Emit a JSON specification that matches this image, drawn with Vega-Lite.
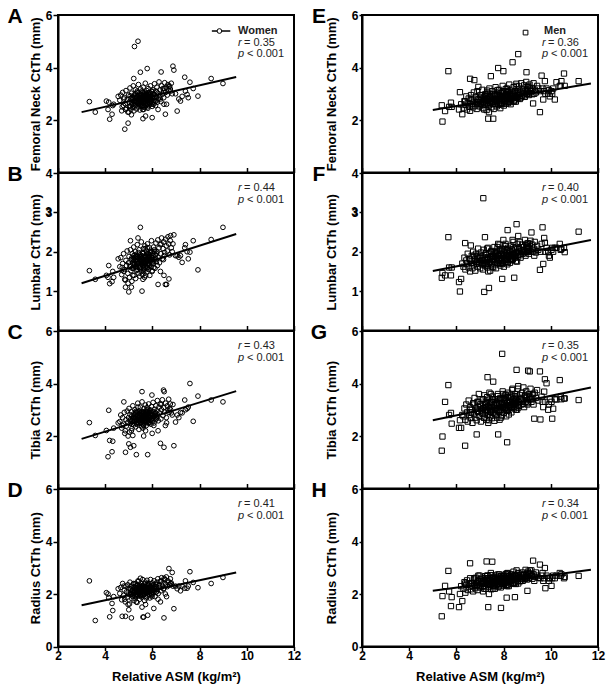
{
"$schema": "https://vega.github.io/schema/vega-lite/v6.json",
"background": "white",
"padding": {"left": 6, "top": 5, "right": 5, "bottom": 5},
"columns": 2,
"spacing": {"row": 0, "column": 68},
"bounds": "flush",
"config": {
 "font": "Liberation Sans",
 "view": {"stroke": "black", "strokeWidth": 2},
 "axis": {"grid": false, "domainColor": "black", "domainWidth": 2, "tickColor": "black", "tickWidth": 1.5, "labelFont": "Liberation Sans", "labelFontSize": 12, "labelFontWeight": "bold", "labelColor": "black", "titleFont": "Liberation Sans", "titleFontSize": 13, "titleFontWeight": "bold", "titleColor": "black", "labelFlush": false, "labelOverlap": false},
 "text": {"font": "Liberation Sans"}
},
"datasets": {
 "fits": [
  {"p": "A", "x0": 3.0, "y0": 2.30, "x1": 9.55, "y1": 3.64},
  {"p": "B", "x0": 3.0, "y0": 1.20, "x1": 9.55, "y1": 2.45},
  {"p": "C", "x0": 3.0, "y0": 1.89, "x1": 9.55, "y1": 3.71},
  {"p": "D", "x0": 3.0, "y0": 1.57, "x1": 9.55, "y1": 2.82},
  {"p": "E", "x0": 5.0, "y0": 2.38, "x1": 11.7, "y1": 3.39},
  {"p": "F", "x0": 5.0, "y0": 1.51, "x1": 11.7, "y1": 2.30},
  {"p": "G", "x0": 5.0, "y0": 2.60, "x1": 11.7, "y1": 3.85},
  {"p": "H", "x0": 5.0, "y0": 2.12, "x1": 11.7, "y1": 2.92}
 ],
 "notes": [
  {"p": "A", "r": "= 0.35"}, {"p": "B", "r": "= 0.44"}, {"p": "C", "r": "= 0.43"}, {"p": "D", "r": "= 0.41"},
  {"p": "E", "r": "= 0.36"}, {"p": "F", "r": "= 0.40"}, {"p": "G", "r": "= 0.35"}, {"p": "H", "r": "= 0.34"}
 ],
 "women": [
  {"x":3.33,"a":2.70,"b":1.52,"c":2.51,"d":2.50},
  {"x":3.58,"a":2.30,"b":1.30,"c":2.02,"d":0.99},
  {"x":4.05,"a":2.72,"b":1.40,"c":2.21,"d":2.05},
  {"x":4.15,"a":2.68,"b":1.65,"c":2.98,"d":1.86},
  {"x":4.19,"a":2.03,"b":1.19,"c":1.83,"d":1.13},
  {"x":4.29,"a":2.22,"b":1.24,"c":1.40,"d":1.64},
  {"x":4.12,"a":2.40,"b":1.35,"c":1.21,"d":2.00},
  {"x":4.32,"a":2.55,"b":1.50,"c":1.80,"d":1.37},
  {"x":4.36,"a":2.60,"b":1.35,"c":2.30,"d":1.90},
  {"x":4.55,"a":2.90,"b":1.82,"c":2.50,"d":2.20},
  {"x":4.72,"a":2.50,"b":1.60,"c":2.40,"d":1.15},
  {"x":4.79,"a":2.80,"b":1.50,"c":3.30,"d":2.30},
  {"x":4.83,"a":1.65,"b":1.30,"c":2.10,"d":1.80},
  {"x":4.86,"a":2.40,"b":1.10,"c":1.38,"d":1.15},
  {"x":4.97,"a":1.88,"b":1.20,"c":2.00,"d":1.60},
  {"x":5.00,"a":2.30,"b":0.98,"c":1.70,"d":1.40},
  {"x":5.07,"a":2.50,"b":2.28,"c":1.57,"d":2.00},
  {"x":5.11,"a":2.20,"b":1.10,"c":2.20,"d":1.09},
  {"x":5.17,"a":2.60,"b":1.40,"c":2.02,"d":1.90},
  {"x":5.21,"a":3.58,"b":1.90,"c":1.63,"d":2.40},
  {"x":5.24,"a":4.80,"b":1.70,"c":2.70,"d":2.20},
  {"x":5.32,"a":2.70,"b":1.60,"c":1.29,"d":1.70},
  {"x":5.39,"a":5.00,"b":2.35,"c":3.10,"d":2.50},
  {"x":5.49,"a":3.82,"b":2.62,"c":2.90,"d":2.60},
  {"x":5.56,"a":2.50,"b":1.00,"c":3.69,"d":1.50},
  {"x":5.60,"a":2.05,"b":1.30,"c":2.30,"d":1.12},
  {"x":5.63,"a":2.40,"b":1.50,"c":2.00,"d":1.12},
  {"x":5.71,"a":2.15,"b":1.40,"c":2.20,"d":1.60},
  {"x":5.78,"a":3.96,"b":2.10,"c":3.00,"d":2.40},
  {"x":5.80,"a":2.50,"b":1.60,"c":1.29,"d":1.19},
  {"x":5.98,"a":3.10,"b":2.00,"c":3.56,"d":2.30},
  {"x":5.99,"a":2.09,"b":1.50,"c":2.10,"d":1.90},
  {"x":6.06,"a":2.60,"b":1.60,"c":2.40,"d":1.45},
  {"x":6.24,"a":2.40,"b":1.17,"c":2.20,"d":1.80},
  {"x":6.34,"a":2.80,"b":1.50,"c":1.72,"d":1.70},
  {"x":6.37,"a":3.83,"b":2.20,"c":3.20,"d":2.50},
  {"x":6.47,"a":3.10,"b":1.80,"c":3.75,"d":2.20},
  {"x":6.49,"a":2.60,"b":1.40,"c":1.57,"d":1.09},
  {"x":6.55,"a":2.22,"b":1.17,"c":2.40,"d":2.00},
  {"x":6.60,"a":2.60,"b":1.17,"c":2.50,"d":1.90},
  {"x":6.50,"a":3.20,"b":1.90,"c":3.69,"d":2.60},
  {"x":6.70,"a":3.30,"b":1.31,"c":2.90,"d":2.97},
  {"x":6.77,"a":3.10,"b":2.41,"c":3.00,"d":2.40},
  {"x":6.84,"a":3.00,"b":2.00,"c":2.80,"d":2.82},
  {"x":6.87,"a":4.05,"b":2.20,"c":3.20,"d":2.30},
  {"x":6.91,"a":3.90,"b":2.43,"c":1.63,"d":1.44},
  {"x":6.98,"a":3.00,"b":1.90,"c":2.53,"d":2.30},
  {"x":7.05,"a":2.34,"b":1.90,"c":2.80,"d":2.20},
  {"x":7.12,"a":2.80,"b":1.86,"c":2.70,"d":2.30},
  {"x":7.19,"a":2.72,"b":1.90,"c":2.90,"d":2.12},
  {"x":7.26,"a":2.90,"b":1.73,"c":2.88,"d":2.30},
  {"x":7.37,"a":3.63,"b":2.10,"c":3.37,"d":2.22},
  {"x":7.40,"a":3.10,"b":2.18,"c":3.00,"d":2.50},
  {"x":7.47,"a":2.97,"b":2.00,"c":3.04,"d":2.22},
  {"x":7.52,"a":2.85,"b":1.82,"c":3.10,"d":2.30},
  {"x":7.59,"a":3.44,"b":1.99,"c":4.00,"d":2.85},
  {"x":7.73,"a":3.20,"b":2.28,"c":2.56,"d":2.44},
  {"x":7.93,"a":2.91,"b":1.54,"c":3.52,"d":2.24},
  {"x":8.49,"a":3.58,"b":2.31,"c":3.37,"d":2.40},
  {"x":8.99,"a":3.39,"b":2.62,"c":3.30,"d":2.63},
  {"x":4.62,"a":2.75,"b":1.62,"c":2.55,"d":2.02},
  {"x":4.66,"a":2.95,"b":1.85,"c":2.80,"d":2.25},
  {"x":4.70,"a":2.35,"b":1.42,"c":2.30,"d":1.78},
  {"x":4.74,"a":3.05,"b":1.70,"c":2.70,"d":2.40},
  {"x":4.78,"a":2.55,"b":1.95,"c":2.45,"d":1.95},
  {"x":4.81,"a":2.85,"b":1.55,"c":2.90,"d":2.15},
  {"x":4.85,"a":2.62,"b":1.28,"c":2.20,"d":1.70},
  {"x":4.88,"a":3.12,"b":1.78,"c":2.62,"d":2.30},
  {"x":4.90,"a":2.45,"b":1.65,"c":2.38,"d":2.08},
  {"x":4.93,"a":2.78,"b":2.02,"c":2.95,"d":1.88},
  {"x":4.96,"a":2.30,"b":1.45,"c":2.52,"d":2.35},
  {"x":4.99,"a":2.95,"b":1.72,"c":2.70,"d":2.00},
  {"x":5.01,"a":2.68,"b":1.88,"c":3.05,"d":2.22},
  {"x":5.03,"a":2.52,"b":1.35,"c":2.15,"d":1.62},
  {"x":5.05,"a":3.22,"b":1.62,"c":2.82,"d":2.45},
  {"x":5.07,"a":2.82,"b":2.05,"c":2.48,"d":1.98},
  {"x":5.09,"a":2.40,"b":1.52,"c":2.65,"d":2.18},
  {"x":5.11,"a":3.02,"b":1.80,"c":2.92,"d":2.30},
  {"x":5.13,"a":2.60,"b":1.25,"c":2.28,"d":1.82},
  {"x":5.15,"a":2.88,"b":1.95,"c":2.58,"d":2.12},
  {"x":5.17,"a":2.48,"b":1.70,"c":3.15,"d":1.95},
  {"x":5.19,"a":3.30,"b":1.58,"c":2.72,"d":2.38},
  {"x":5.21,"a":2.72,"b":2.12,"c":2.42,"d":2.05},
  {"x":5.22,"a":2.35,"b":1.40,"c":2.85,"d":1.75},
  {"x":5.24,"a":2.95,"b":1.85,"c":2.55,"d":2.28},
  {"x":5.26,"a":2.65,"b":1.62,"c":3.00,"d":2.15},
  {"x":5.28,"a":3.15,"b":2.00,"c":2.68,"d":1.90},
  {"x":5.29,"a":2.55,"b":1.32,"c":2.35,"d":2.40},
  {"x":5.31,"a":2.82,"b":1.75,"c":2.90,"d":2.00},
  {"x":5.33,"a":2.42,"b":1.90,"c":2.62,"d":2.22},
  {"x":5.35,"a":3.05,"b":1.55,"c":2.45,"d":1.68},
  {"x":5.36,"a":2.70,"b":2.18,"c":2.78,"d":2.35},
  {"x":5.38,"a":2.92,"b":1.68,"c":3.25,"d":2.10},
  {"x":5.40,"a":2.50,"b":1.45,"c":2.52,"d":1.92},
  {"x":5.41,"a":3.35,"b":1.85,"c":2.70,"d":2.48},
  {"x":5.43,"a":2.78,"b":1.72,"c":2.25,"d":2.05},
  {"x":5.44,"a":2.60,"b":2.05,"c":2.95,"d":2.20},
  {"x":5.46,"a":3.00,"b":1.38,"c":2.60,"d":1.80},
  {"x":5.47,"a":2.38,"b":1.60,"c":2.80,"d":2.30},
  {"x":5.49,"a":2.85,"b":1.92,"c":3.10,"d":2.12},
  {"x":5.50,"a":3.18,"b":1.78,"c":2.50,"d":1.98},
  {"x":5.52,"a":2.68,"b":1.50,"c":2.68,"d":2.42},
  {"x":5.53,"a":2.95,"b":2.25,"c":2.88,"d":2.18},
  {"x":5.55,"a":2.52,"b":1.68,"c":2.35,"d":1.88},
  {"x":5.56,"a":3.10,"b":1.85,"c":3.30,"d":2.30},
  {"x":5.58,"a":2.78,"b":1.42,"c":2.72,"d":2.08},
  {"x":5.59,"a":2.40,"b":1.95,"c":2.58,"d":2.55},
  {"x":5.61,"a":3.25,"b":1.65,"c":2.92,"d":1.95},
  {"x":5.62,"a":2.88,"b":2.08,"c":2.42,"d":2.25},
  {"x":5.64,"a":2.62,"b":1.55,"c":3.05,"d":2.02},
  {"x":5.65,"a":3.02,"b":1.80,"c":2.65,"d":2.38},
  {"x":5.67,"a":2.72,"b":1.35,"c":2.82,"d":1.75},
  {"x":5.68,"a":2.48,"b":2.15,"c":2.50,"d":2.15},
  {"x":5.70,"a":3.40,"b":1.72,"c":3.18,"d":2.45},
  {"x":5.71,"a":2.92,"b":1.90,"c":2.62,"d":2.05},
  {"x":5.73,"a":2.58,"b":1.60,"c":2.95,"d":2.28},
  {"x":5.74,"a":2.80,"b":2.02,"c":2.40,"d":1.85},
  {"x":5.76,"a":3.12,"b":1.48,"c":2.75,"d":2.20},
  {"x":5.77,"a":2.65,"b":1.82,"c":3.08,"d":2.52},
  {"x":5.79,"a":2.95,"b":2.20,"c":2.55,"d":2.10},
  {"x":5.81,"a":2.45,"b":1.68,"c":2.85,"d":1.92},
  {"x":5.82,"a":3.20,"b":1.95,"c":2.70,"d":2.32},
  {"x":5.84,"a":2.75,"b":1.55,"c":3.22,"d":2.08},
  {"x":5.85,"a":2.55,"b":1.88,"c":2.48,"d":2.40},
  {"x":5.87,"a":3.05,"b":2.10,"c":2.90,"d":2.18},
  {"x":5.89,"a":2.85,"b":1.40,"c":2.60,"d":1.85},
  {"x":5.90,"a":2.62,"b":1.75,"c":3.00,"d":2.30},
  {"x":5.92,"a":3.30,"b":2.00,"c":2.78,"d":2.55},
  {"x":5.94,"a":2.90,"b":1.62,"c":2.45,"d":2.02},
  {"x":5.96,"a":2.70,"b":2.28,"c":3.12,"d":2.25},
  {"x":5.97,"a":3.08,"b":1.85,"c":2.68,"d":1.95},
  {"x":5.99,"a":2.52,"b":1.52,"c":2.92,"d":2.42},
  {"x":6.01,"a":2.82,"b":1.95,"c":2.58,"d":2.15},
  {"x":6.03,"a":3.15,"b":1.70,"c":3.28,"d":2.35},
  {"x":6.05,"a":2.65,"b":2.12,"c":2.75,"d":2.05},
  {"x":6.07,"a":2.98,"b":1.80,"c":2.50,"d":2.50},
  {"x":6.09,"a":3.38,"b":2.05,"c":3.02,"d":2.20},
  {"x":6.11,"a":2.75,"b":1.58,"c":2.85,"d":1.90},
  {"x":6.13,"a":2.55,"b":1.92,"c":2.62,"d":2.38},
  {"x":6.15,"a":3.10,"b":2.22,"c":3.15,"d":2.28},
  {"x":6.17,"a":2.88,"b":1.75,"c":2.72,"d":2.08},
  {"x":6.19,"a":3.25,"b":2.00,"c":2.95,"d":2.45},
  {"x":6.21,"a":2.68,"b":1.65,"c":3.35,"d":2.18},
  {"x":6.23,"a":3.02,"b":2.30,"c":2.80,"d":2.58},
  {"x":6.25,"a":2.80,"b":1.85,"c":2.58,"d":2.02},
  {"x":6.28,"a":3.45,"b":2.10,"c":3.10,"d":2.35},
  {"x":6.30,"a":2.92,"b":1.72,"c":2.88,"d":2.25},
  {"x":6.33,"a":3.15,"b":2.18,"c":3.22,"d":2.48},
  {"x":6.36,"a":2.70,"b":1.95,"c":2.65,"d":2.12},
  {"x":6.39,"a":3.30,"b":2.35,"c":3.00,"d":2.62},
  {"x":6.42,"a":2.98,"b":1.82,"c":3.38,"d":2.30},
  {"x":6.45,"a":3.20,"b":2.08,"c":2.78,"d":2.42},
  {"x":6.48,"a":2.85,"b":2.25,"c":3.08,"d":2.20},
  {"x":6.52,"a":3.42,"b":1.98,"c":2.92,"d":2.55},
  {"x":6.56,"a":3.05,"b":2.32,"c":3.25,"d":2.38},
  {"x":6.59,"a":3.25,"b":2.15,"c":2.70,"d":2.65},
  {"x":6.63,"a":2.95,"b":2.02,"c":3.15,"d":2.28},
  {"x":6.66,"a":3.35,"b":2.38,"c":2.98,"d":2.50},
  {"x":6.69,"a":3.12,"b":2.20,"c":3.40,"d":2.45},
  {"x":6.73,"a":3.28,"b":1.92,"c":3.05,"d":2.35},
  {"x":6.76,"a":3.18,"b":2.28,"c":3.22,"d":2.58},
  {"x":6.80,"a":3.40,"b":2.10,"c":2.88,"d":2.42},
  {"x":5.25,"a":2.75,"b":1.78,"c":2.62,"d":2.10},
  {"x":5.34,"a":2.88,"b":1.82,"c":2.75,"d":2.18},
  {"x":5.42,"a":2.68,"b":1.70,"c":2.58,"d":2.02},
  {"x":5.48,"a":2.92,"b":1.88,"c":2.70,"d":2.22},
  {"x":5.54,"a":2.80,"b":1.75,"c":2.62,"d":2.12},
  {"x":5.60,"a":2.72,"b":1.80,"c":2.78,"d":2.05},
  {"x":5.66,"a":2.95,"b":1.70,"c":2.55,"d":2.18},
  {"x":5.72,"a":2.85,"b":1.85,"c":2.68,"d":2.10},
  {"x":5.78,"a":2.62,"b":1.78,"c":2.82,"d":2.25},
  {"x":5.83,"a":2.90,"b":1.72,"c":2.60,"d":2.08},
  {"x":5.88,"a":2.78,"b":1.92,"c":2.72,"d":2.15},
  {"x":5.93,"a":2.70,"b":1.82,"c":2.85,"d":2.20},
  {"x":5.50,"a":2.58,"b":1.62,"c":2.48,"d":1.95},
  {"x":5.57,"a":3.05,"b":1.98,"c":2.92,"d":2.32},
  {"x":5.63,"a":2.50,"b":1.58,"c":2.40,"d":1.98},
  {"x":5.69,"a":2.82,"b":2.08,"c":2.85,"d":2.28},
  {"x":5.75,"a":3.00,"b":1.62,"c":2.58,"d":2.02},
  {"x":5.80,"a":2.60,"b":1.95,"c":2.92,"d":2.35},
  {"x":5.86,"a":2.82,"b":1.68,"c":2.52,"d":1.98},
  {"x":5.91,"a":3.00,"b":1.98,"c":2.78,"d":2.28},
  {"x":5.45,"a":2.82,"b":1.58,"c":2.78,"d":2.25},
  {"x":5.37,"a":2.62,"b":1.88,"c":2.52,"d":1.98},
  {"x":5.30,"a":2.92,"b":1.62,"c":2.88,"d":2.30},
  {"x":5.20,"a":2.70,"b":1.80,"c":2.68,"d":2.05},
  {"x":5.14,"a":2.85,"b":1.58,"c":2.45,"d":2.15},
  {"x":5.23,"a":2.58,"b":1.66,"c":2.55,"d":2.06},
  {"x":5.27,"a":3.00,"b":1.92,"c":2.82,"d":2.24},
  {"x":5.32,"a":2.76,"b":1.52,"c":2.48,"d":1.96},
  {"x":5.36,"a":3.10,"b":1.74,"c":2.92,"d":2.32},
  {"x":5.40,"a":2.64,"b":1.98,"c":2.70,"d":2.14},
  {"x":5.44,"a":2.92,"b":1.64,"c":2.50,"d":2.02},
  {"x":5.47,"a":2.70,"b":1.84,"c":2.86,"d":2.28},
  {"x":5.51,"a":2.98,"b":1.56,"c":2.62,"d":1.92},
  {"x":5.55,"a":2.62,"b":1.90,"c":2.78,"d":2.20},
  {"x":5.58,"a":2.90,"b":1.72,"c":2.46,"d":2.10},
  {"x":5.62,"a":2.68,"b":1.96,"c":2.88,"d":2.30},
  {"x":5.65,"a":2.80,"b":1.62,"c":2.68,"d":2.00},
  {"x":5.69,"a":3.05,"b":1.88,"c":2.58,"d":2.16},
  {"x":5.72,"a":2.56,"b":1.76,"c":2.90,"d":2.26},
  {"x":5.76,"a":2.88,"b":1.94,"c":2.64,"d":2.04},
  {"x":5.79,"a":2.74,"b":1.60,"c":2.74,"d":2.18},
  {"x":5.83,"a":3.02,"b":1.86,"c":2.52,"d":2.34},
  {"x":5.86,"a":2.66,"b":1.78,"c":2.96,"d":2.08},
  {"x":5.90,"a":2.94,"b":1.66,"c":2.70,"d":2.22},
  {"x":5.94,"a":2.78,"b":2.04,"c":2.60,"d":2.12},
  {"x":5.98,"a":2.60,"b":1.70,"c":2.84,"d":2.00},
  {"x":6.02,"a":3.00,"b":1.90,"c":2.68,"d":2.30},
  {"x":6.06,"a":2.84,"b":1.76,"c":2.92,"d":2.14},
  {"x":6.10,"a":2.96,"b":2.00,"c":2.74,"d":2.26},
  {"x":6.14,"a":2.72,"b":1.82,"c":2.88,"d":2.06},
  {"x":6.18,"a":3.06,"b":1.96,"c":2.66,"d":2.36},
  {"x":5.18,"a":2.80,"b":1.74,"c":2.66,"d":2.12},
  {"x":5.12,"a":2.66,"b":1.84,"c":2.76,"d":2.00},
  {"x":5.06,"a":2.92,"b":1.66,"c":2.60,"d":2.20},
  {"x":5.30,"a":2.84,"b":1.86,"c":2.94,"d":1.94},
  {"x":5.46,"a":2.86,"b":1.76,"c":2.72,"d":2.16},
  {"x":5.53,"a":2.74,"b":1.82,"c":2.80,"d":2.08},
  {"x":5.61,"a":2.92,"b":1.74,"c":2.62,"d":2.24},
  {"x":5.68,"a":2.70,"b":1.86,"c":2.72,"d":2.12},
  {"x":5.74,"a":2.96,"b":1.80,"c":2.80,"d":2.20},
  {"x":5.81,"a":2.82,"b":1.88,"c":2.64,"d":2.10},
  {"x":5.88,"a":2.86,"b":1.80,"c":2.90,"d":2.16},
  {"x":5.95,"a":2.76,"b":1.86,"c":2.76,"d":2.24},
  {"x":6.00,"a":2.90,"b":1.80,"c":2.82,"d":2.06},
  {"x":6.12,"a":2.86,"b":1.92,"c":2.78,"d":2.18}
 ],
 "men": [
  {"x":5.38,"e":2.56,"f":1.34,"g":1.44,"h":1.15},
  {"x":5.41,"e":1.94,"f":1.46,"g":1.98,"h":1.92},
  {"x":5.52,"e":2.34,"f":1.40,"g":3.30,"h":2.31},
  {"x":5.66,"e":3.86,"f":2.37,"g":3.94,"h":2.88},
  {"x":5.77,"e":2.66,"f":1.40,"g":2.88,"h":1.54},
  {"x":5.80,"e":2.50,"f":1.60,"g":2.47,"h":1.88},
  {"x":5.69,"e":2.50,"f":1.60,"g":2.80,"h":2.10},
  {"x":6.11,"e":2.40,"f":1.23,"g":2.31,"h":1.50},
  {"x":6.15,"e":3.06,"f":0.99,"g":2.60,"h":2.00},
  {"x":6.20,"e":2.60,"f":1.31,"g":2.31,"h":2.30},
  {"x":6.25,"e":2.22,"f":1.70,"g":2.80,"h":1.73},
  {"x":6.37,"e":2.70,"f":2.22,"g":1.63,"h":2.40},
  {"x":6.58,"e":3.57,"f":1.80,"g":3.00,"h":3.17},
  {"x":6.61,"e":2.80,"f":2.16,"g":2.90,"h":2.40},
  {"x":6.76,"e":3.52,"f":1.90,"g":3.20,"h":2.60},
  {"x":6.86,"e":2.60,"f":1.70,"g":2.06,"h":2.30},
  {"x":6.93,"e":3.26,"f":1.90,"g":3.30,"h":2.70},
  {"x":7.14,"e":2.70,"f":3.36,"g":3.40,"h":2.50},
  {"x":7.18,"e":2.40,"f":0.98,"g":2.70,"h":2.20},
  {"x":7.21,"e":2.90,"f":2.37,"g":3.20,"h":2.60},
  {"x":7.28,"e":2.80,"f":1.70,"g":3.00,"h":3.24},
  {"x":7.32,"e":3.00,"f":1.80,"g":4.24,"h":2.70},
  {"x":7.35,"e":2.05,"f":1.50,"g":2.50,"h":1.50},
  {"x":7.38,"e":2.30,"f":1.08,"g":2.60,"h":2.00},
  {"x":7.46,"e":3.67,"f":2.00,"g":3.60,"h":2.80},
  {"x":7.52,"e":2.70,"f":1.90,"g":3.30,"h":3.23},
  {"x":7.56,"e":2.05,"f":1.60,"g":4.07,"h":2.20},
  {"x":7.77,"e":3.98,"f":2.20,"g":2.06,"h":2.50},
  {"x":7.89,"e":2.60,"f":1.70,"g":2.70,"h":1.47},
  {"x":7.94,"e":2.90,"f":1.31,"g":5.13,"h":2.60},
  {"x":7.99,"e":3.86,"f":2.30,"g":3.60,"h":2.70},
  {"x":8.13,"e":2.80,"f":1.80,"g":3.00,"h":1.86},
  {"x":8.15,"e":2.90,"f":1.90,"g":1.76,"h":2.30},
  {"x":8.17,"e":3.10,"f":2.55,"g":3.50,"h":2.80},
  {"x":8.34,"e":2.85,"f":1.80,"g":3.20,"h":2.50},
  {"x":8.38,"e":4.20,"f":2.30,"g":3.80,"h":2.70},
  {"x":8.45,"e":2.70,"f":1.34,"g":3.10,"h":2.40},
  {"x":8.48,"e":2.90,"f":1.90,"g":3.30,"h":1.88},
  {"x":8.55,"e":3.30,"f":2.70,"g":4.52,"h":2.90},
  {"x":8.62,"e":4.51,"f":2.40,"g":3.90,"h":2.80},
  {"x":8.97,"e":3.82,"f":2.20,"g":3.50,"h":2.60},
  {"x":9.01,"e":3.00,"f":2.00,"g":3.20,"h":2.12},
  {"x":9.04,"e":3.30,"f":2.10,"g":4.49,"h":2.80},
  {"x":9.11,"e":3.20,"f":2.20,"g":4.46,"h":2.90},
  {"x":9.18,"e":3.10,"f":2.49,"g":3.40,"h":2.70},
  {"x":9.25,"e":2.63,"f":2.00,"g":3.60,"h":3.27},
  {"x":9.30,"e":3.00,"f":1.90,"g":2.66,"h":2.50},
  {"x":9.54,"e":2.30,"f":1.54,"g":4.46,"h":3.12},
  {"x":9.56,"e":3.10,"f":2.00,"g":2.63,"h":2.60},
  {"x":9.61,"e":3.69,"f":2.20,"g":3.50,"h":2.70},
  {"x":9.65,"e":3.20,"f":2.62,"g":3.30,"h":2.80},
  {"x":9.68,"e":2.78,"f":1.69,"g":3.10,"h":2.50},
  {"x":9.72,"e":3.10,"f":2.35,"g":3.69,"h":2.60},
  {"x":9.75,"e":3.48,"f":2.23,"g":4.16,"h":2.99},
  {"x":9.77,"e":3.00,"f":2.00,"g":3.30,"h":2.22},
  {"x":9.82,"e":3.20,"f":2.10,"g":4.01,"h":2.70},
  {"x":9.89,"e":3.00,"f":2.00,"g":3.00,"h":2.60},
  {"x":9.92,"e":3.14,"f":1.90,"g":3.20,"h":2.50},
  {"x":9.96,"e":2.90,"f":1.85,"g":3.40,"h":2.60},
  {"x":10.03,"e":3.10,"f":2.05,"g":3.30,"h":2.31},
  {"x":10.06,"e":3.00,"f":2.10,"g":2.66,"h":2.60},
  {"x":10.10,"e":3.20,"f":2.00,"g":3.04,"h":2.70},
  {"x":10.17,"e":2.78,"f":2.10,"g":3.40,"h":2.60},
  {"x":10.24,"e":3.44,"f":2.10,"g":3.39,"h":2.70},
  {"x":10.38,"e":3.30,"f":2.20,"g":4.13,"h":2.80},
  {"x":10.42,"e":3.30,"f":2.05,"g":3.50,"h":2.69},
  {"x":10.45,"e":3.48,"f":2.07,"g":3.40,"h":2.75},
  {"x":10.56,"e":3.77,"f":2.10,"g":3.43,"h":2.60},
  {"x":10.59,"e":3.30,"f":1.99,"g":3.43,"h":2.65},
  {"x":11.18,"e":3.48,"f":2.51,"g":3.37,"h":2.69},
  {"x":6.30,"e":2.45,"f":1.62,"g":2.75,"h":2.20},
  {"x":6.34,"e":2.72,"f":1.85,"g":3.05,"h":2.45},
  {"x":6.38,"e":2.58,"f":1.55,"g":2.62,"h":2.05},
  {"x":6.42,"e":2.90,"f":1.78,"g":3.20,"h":2.35},
  {"x":6.45,"e":2.40,"f":1.70,"g":2.90,"h":2.52},
  {"x":6.48,"e":2.65,"f":1.95,"g":2.55,"h":2.15},
  {"x":6.52,"e":2.82,"f":1.60,"g":3.35,"h":2.40},
  {"x":6.55,"e":2.50,"f":1.82,"g":2.80,"h":2.28},
  {"x":6.58,"e":2.35,"f":1.50,"g":3.10,"h":2.60},
  {"x":6.62,"e":2.95,"f":1.72,"g":2.68,"h":2.18},
  {"x":6.65,"e":2.62,"f":1.90,"g":3.00,"h":2.42},
  {"x":6.68,"e":2.78,"f":1.58,"g":2.50,"h":2.30},
  {"x":6.71,"e":2.48,"f":2.00,"g":3.25,"h":2.10},
  {"x":6.74,"e":3.05,"f":1.68,"g":2.85,"h":2.55},
  {"x":6.77,"e":2.70,"f":1.80,"g":3.45,"h":2.35},
  {"x":6.80,"e":2.55,"f":1.52,"g":2.70,"h":2.22},
  {"x":6.83,"e":2.88,"f":1.95,"g":3.05,"h":2.62},
  {"x":6.86,"e":2.42,"f":1.75,"g":2.60,"h":2.40},
  {"x":6.89,"e":3.10,"f":1.62,"g":3.30,"h":2.15},
  {"x":6.92,"e":2.68,"f":2.08,"g":2.92,"h":2.48},
  {"x":6.95,"e":2.80,"f":1.70,"g":3.60,"h":2.30},
  {"x":6.98,"e":2.52,"f":1.85,"g":2.75,"h":2.70},
  {"x":7.01,"e":2.95,"f":1.58,"g":3.15,"h":2.25},
  {"x":7.04,"e":2.62,"f":1.98,"g":2.55,"h":2.50},
  {"x":7.07,"e":2.75,"f":1.72,"g":3.40,"h":2.38},
  {"x":7.10,"e":3.15,"f":1.88,"g":2.85,"h":2.62},
  {"x":7.13,"e":2.45,"f":1.55,"g":3.05,"h":2.10},
  {"x":7.16,"e":2.85,"f":2.05,"g":2.70,"h":2.45},
  {"x":7.19,"e":2.60,"f":1.78,"g":3.55,"h":2.32},
  {"x":7.22,"e":2.98,"f":1.65,"g":2.95,"h":2.68},
  {"x":7.25,"e":2.72,"f":1.92,"g":3.20,"h":2.20},
  {"x":7.28,"e":2.38,"f":1.82,"g":2.62,"h":2.52},
  {"x":7.31,"e":3.05,"f":1.60,"g":3.35,"h":2.40},
  {"x":7.34,"e":2.78,"f":2.10,"g":2.80,"h":2.60},
  {"x":7.37,"e":2.55,"f":1.70,"g":3.10,"h":2.28},
  {"x":7.40,"e":3.20,"f":1.95,"g":3.65,"h":2.55},
  {"x":7.43,"e":2.65,"f":1.52,"g":2.75,"h":2.35},
  {"x":7.45,"e":2.90,"f":1.85,"g":3.00,"h":2.72},
  {"x":7.48,"e":2.48,"f":2.00,"g":3.30,"h":2.18},
  {"x":7.51,"e":2.82,"f":1.75,"g":2.68,"h":2.48},
  {"x":7.53,"e":3.10,"f":1.62,"g":3.50,"h":2.62},
  {"x":7.56,"e":2.70,"f":1.90,"g":2.90,"h":2.30},
  {"x":7.58,"e":2.42,"f":1.80,"g":3.15,"h":2.55},
  {"x":7.61,"e":2.95,"f":2.12,"g":2.58,"h":2.42},
  {"x":7.63,"e":2.62,"f":1.68,"g":3.40,"h":2.20},
  {"x":7.66,"e":3.25,"f":1.95,"g":3.05,"h":2.70},
  {"x":7.68,"e":2.78,"f":1.58,"g":2.80,"h":2.50},
  {"x":7.71,"e":2.52,"f":1.85,"g":3.25,"h":2.35},
  {"x":7.73,"e":3.00,"f":2.02,"g":2.70,"h":2.62},
  {"x":7.76,"e":2.85,"f":1.72,"g":3.60,"h":2.45},
  {"x":7.78,"e":2.58,"f":1.92,"g":2.95,"h":2.28},
  {"x":7.81,"e":3.15,"f":1.80,"g":3.20,"h":2.75},
  {"x":7.83,"e":2.72,"f":2.18,"g":2.62,"h":2.40},
  {"x":7.86,"e":2.45,"f":1.65,"g":3.45,"h":2.58},
  {"x":7.88,"e":3.02,"f":1.95,"g":3.00,"h":2.25},
  {"x":7.91,"e":2.80,"f":1.78,"g":3.30,"h":2.68},
  {"x":7.93,"e":2.62,"f":2.08,"g":2.78,"h":2.50},
  {"x":7.96,"e":3.30,"f":1.70,"g":3.70,"h":2.40},
  {"x":7.98,"e":2.88,"f":1.90,"g":3.10,"h":2.62},
  {"x":8.01,"e":2.55,"f":1.62,"g":2.88,"h":2.32},
  {"x":8.03,"e":3.08,"f":2.05,"g":3.40,"h":2.70},
  {"x":8.06,"e":2.75,"f":1.85,"g":3.05,"h":2.48},
  {"x":8.08,"e":2.95,"f":2.20,"g":3.55,"h":2.58},
  {"x":8.11,"e":2.62,"f":1.75,"g":2.75,"h":2.35},
  {"x":8.14,"e":3.20,"f":1.95,"g":3.25,"h":2.78},
  {"x":8.16,"e":2.85,"f":1.68,"g":3.00,"h":2.45},
  {"x":8.19,"e":3.05,"f":2.10,"g":3.65,"h":2.62},
  {"x":8.22,"e":2.70,"f":1.88,"g":2.82,"h":2.30},
  {"x":8.24,"e":3.35,"f":2.00,"g":3.35,"h":2.68},
  {"x":8.27,"e":2.92,"f":1.72,"g":3.10,"h":2.52},
  {"x":8.30,"e":2.60,"f":2.15,"g":3.50,"h":2.40},
  {"x":8.33,"e":3.12,"f":1.90,"g":2.90,"h":2.75},
  {"x":8.36,"e":2.82,"f":2.05,"g":3.75,"h":2.58},
  {"x":8.39,"e":3.00,"f":1.80,"g":3.20,"h":2.42},
  {"x":8.42,"e":3.25,"f":2.25,"g":3.40,"h":2.85},
  {"x":8.45,"e":2.75,"f":1.95,"g":3.05,"h":2.55},
  {"x":8.48,"e":3.10,"f":1.85,"g":3.60,"h":2.68},
  {"x":8.51,"e":2.90,"f":2.10,"g":3.25,"h":2.45},
  {"x":8.54,"e":3.38,"f":1.98,"g":3.45,"h":2.72},
  {"x":8.57,"e":2.85,"f":1.75,"g":3.00,"h":2.60},
  {"x":8.60,"e":3.15,"f":2.20,"g":3.80,"h":2.50},
  {"x":8.63,"e":2.95,"f":1.92,"g":3.30,"h":2.78},
  {"x":8.66,"e":3.28,"f":2.08,"g":3.15,"h":2.62},
  {"x":8.69,"e":2.80,"f":2.25,"g":3.55,"h":2.48},
  {"x":8.72,"e":3.05,"f":1.85,"g":3.40,"h":2.70},
  {"x":8.75,"e":3.40,"f":2.02,"g":3.20,"h":2.58},
  {"x":8.78,"e":2.92,"f":2.18,"g":3.65,"h":2.82},
  {"x":8.81,"e":3.18,"f":1.95,"g":3.35,"h":2.50},
  {"x":8.84,"e":3.02,"f":2.12,"g":3.85,"h":2.65},
  {"x":8.87,"e":3.32,"f":2.00,"g":3.10,"h":2.75},
  {"x":8.90,"e":2.88,"f":2.30,"g":3.50,"h":2.60},
  {"x":8.93,"e":3.12,"f":1.90,"g":3.30,"h":2.92},
  {"x":8.96,"e":3.45,"f":2.15,"g":3.70,"h":2.70},
  {"x":8.99,"e":3.00,"f":2.05,"g":3.45,"h":2.55},
  {"x":9.03,"e":3.25,"f":2.22,"g":3.25,"h":2.85},
  {"x":9.07,"e":2.95,"f":1.95,"g":3.60,"h":2.62},
  {"x":9.10,"e":3.35,"f":2.10,"g":3.40,"h":2.78},
  {"x":9.14,"e":3.10,"f":2.28,"g":3.80,"h":2.68},
  {"x":9.18,"e":3.22,"f":2.00,"g":3.30,"h":2.90},
  {"x":9.22,"e":2.98,"f":2.18,"g":3.55,"h":2.58},
  {"x":9.27,"e":3.40,"f":2.08,"g":3.20,"h":2.75},
  {"x":9.32,"e":3.15,"f":2.25,"g":3.65,"h":2.65},
  {"x":9.37,"e":3.05,"f":1.98,"g":3.45,"h":2.82},
  {"x":9.42,"e":3.30,"f":2.15,"g":3.75,"h":2.70},
  {"x":9.47,"e":3.20,"f":2.05,"g":3.35,"h":2.62},
  {"x":7.20,"e":2.75,"f":1.85,"g":3.00,"h":2.45},
  {"x":7.35,"e":2.85,"f":1.80,"g":3.15,"h":2.50},
  {"x":7.50,"e":2.70,"f":1.88,"g":3.08,"h":2.42},
  {"x":7.65,"e":2.90,"f":1.82,"g":3.20,"h":2.55},
  {"x":7.80,"e":2.78,"f":1.90,"g":3.12,"h":2.48},
  {"x":7.95,"e":2.92,"f":1.85,"g":3.25,"h":2.58},
  {"x":8.10,"e":2.85,"f":1.92,"g":3.18,"h":2.52},
  {"x":8.25,"e":2.98,"f":1.88,"g":3.30,"h":2.60},
  {"x":8.40,"e":2.90,"f":1.95,"g":3.22,"h":2.55},
  {"x":8.55,"e":3.02,"f":1.98,"g":3.35,"h":2.62},
  {"x":7.42,"e":2.60,"f":1.75,"g":2.92,"h":2.38},
  {"x":7.57,"e":2.98,"f":1.95,"g":3.38,"h":2.65},
  {"x":7.72,"e":2.68,"f":1.72,"g":2.98,"h":2.40},
  {"x":7.87,"e":2.88,"f":2.02,"g":3.42,"h":2.68},
  {"x":8.02,"e":2.72,"f":1.78,"g":3.02,"h":2.45},
  {"x":8.17,"e":2.95,"f":2.05,"g":3.48,"h":2.70},
  {"x":8.32,"e":2.78,"f":1.82,"g":3.08,"h":2.48},
  {"x":8.47,"e":3.05,"f":2.08,"g":3.52,"h":2.72},
  {"x":7.27,"e":2.92,"f":1.68,"g":3.25,"h":2.58},
  {"x":7.62,"e":2.78,"f":1.98,"g":2.85,"h":2.32},
  {"x":7.97,"e":3.08,"f":1.72,"g":3.12,"h":2.38},
  {"x":8.28,"e":2.68,"f":2.00,"g":3.28,"h":2.62},
  {"x":8.62,"e":2.82,"f":1.88,"g":3.08,"h":2.40},
  {"x":6.90,"e":2.78,"f":1.85,"g":3.12,"h":2.50},
  {"x":7.06,"e":2.88,"f":1.78,"g":2.98,"h":2.42},
  {"x":6.88,"e":2.66,"f":1.74,"g":2.96,"h":2.34},
  {"x":7.02,"e":2.82,"f":1.90,"g":3.22,"h":2.56},
  {"x":7.15,"e":2.70,"f":1.70,"g":3.06,"h":2.40},
  {"x":7.24,"e":2.96,"f":1.96,"g":3.30,"h":2.52},
  {"x":7.33,"e":2.64,"f":1.86,"g":2.94,"h":2.36},
  {"x":7.41,"e":2.88,"f":1.74,"g":3.26,"h":2.60},
  {"x":7.49,"e":2.76,"f":2.02,"g":3.04,"h":2.44},
  {"x":7.55,"e":2.60,"f":1.80,"g":3.40,"h":2.30},
  {"x":7.64,"e":3.00,"f":1.88,"g":2.98,"h":2.58},
  {"x":7.70,"e":2.74,"f":1.96,"g":3.28,"h":2.46},
  {"x":7.79,"e":2.90,"f":1.76,"g":3.06,"h":2.62},
  {"x":7.85,"e":2.66,"f":2.06,"g":3.36,"h":2.38},
  {"x":7.92,"e":3.04,"f":1.84,"g":3.16,"h":2.54},
  {"x":8.00,"e":2.80,"f":1.98,"g":3.44,"h":2.66},
  {"x":8.07,"e":2.92,"f":1.80,"g":3.08,"h":2.42},
  {"x":8.13,"e":2.70,"f":2.04,"g":3.34,"h":2.60},
  {"x":8.21,"e":3.06,"f":1.90,"g":3.18,"h":2.48},
  {"x":8.29,"e":2.84,"f":1.78,"g":3.46,"h":2.64},
  {"x":8.35,"e":2.96,"f":2.06,"g":3.12,"h":2.52},
  {"x":8.43,"e":2.74,"f":1.92,"g":3.38,"h":2.40},
  {"x":8.50,"e":3.10,"f":1.86,"g":3.24,"h":2.68},
  {"x":8.58,"e":2.88,"f":2.00,"g":3.50,"h":2.56},
  {"x":8.65,"e":3.00,"f":2.10,"g":3.28,"h":2.64},
  {"x":8.74,"e":2.86,"f":1.94,"g":3.42,"h":2.50},
  {"x":8.82,"e":3.08,"f":2.04,"g":3.22,"h":2.72},
  {"x":8.91,"e":2.94,"f":1.98,"g":3.56,"h":2.58},
  {"x":9.00,"e":3.16,"f":2.12,"g":3.36,"h":2.66},
  {"x":9.09,"e":3.02,"f":2.02,"g":3.50,"h":2.76},
  {"x":7.12,"e":2.58,"f":1.66,"g":2.86,"h":2.28},
  {"x":7.47,"e":2.68,"f":1.68,"g":2.90,"h":2.34},
  {"x":7.82,"e":2.62,"f":1.70,"g":2.92,"h":2.32},
  {"x":8.18,"e":2.64,"f":1.74,"g":2.96,"h":2.36},
  {"x":8.52,"e":2.70,"f":1.76,"g":3.00,"h":2.38},
  {"x":7.30,"e":3.12,"f":2.08,"g":3.48,"h":2.70},
  {"x":7.74,"e":3.14,"f":2.12,"g":3.52,"h":2.74},
  {"x":8.09,"e":3.18,"f":2.14,"g":3.58,"h":2.76}
 ]
},
"concat": [
 {"width": 236, "height": 157.5, "layer": [
  {"data": {"name": "women"}, "mark": {"type": "point", "shape": "circle", "filled": false, "size": 22, "color": "black", "strokeWidth": 1, "opacity": 1},
   "encoding": {"x": {"field": "x", "type": "quantitative", "scale": {"domain": [2, 12]}, "axis": {"values": [2,4,6,8,10,12], "labels": false, "tickSize": -5, "title": null}},
    "y": {"field": "a", "type": "quantitative", "scale": {"domain": [0, 6]}, "axis": {"values": [2,4,6], "labelOverlap": false, "tickSize": 5, "labelPadding": 1, "titlePadding": 3, "title": "Femoral Neck CtTh (mm)"}}}},
  {"data": {"name": "fits"}, "transform": [{"filter": "datum.p == 'A'"}], "mark": {"type": "rule", "color": "black", "strokeWidth": 2},
   "encoding": {"x": {"field": "x0", "type": "quantitative"}, "y": {"field": "y0", "type": "quantitative"}, "x2": {"field": "x1"}, "y2": {"field": "y1"}}},
  {"data": {"name": "notes"}, "transform": [{"filter": "datum.p == 'A'"}], "encoding": {"x": {"datum": 2, "type": "quantitative"}, "y": {"datum": 6, "type": "quantitative"}}, "layer": [
   {"mark": {"type": "text", "fontSize": 21, "fontWeight": "bold", "align": "center", "baseline": "middle", "dx": -43, "dy": 2, "color": "black"}, "encoding": {"text": {"field": "p"}}},
   {"mark": {"type": "text", "fontSize": 11, "fontWeight": "bold", "align": "left", "baseline": "middle", "dx": 180, "dy": 16, "color": "#222", "text": "Women"}},
   {"mark": {"type": "text", "fontSize": 11, "fontStyle": "italic", "align": "left", "baseline": "middle", "dx": 180, "dy": 28, "color": "#222", "text": "r"}},
   {"mark": {"type": "text", "fontSize": 11, "align": "left", "baseline": "middle", "dx": 186, "dy": 28, "color": "#222"}, "encoding": {"text": {"field": "r"}}},
   {"mark": {"type": "text", "fontSize": 11, "fontStyle": "italic", "align": "left", "baseline": "middle", "dx": 180, "dy": 39, "color": "#222", "text": "p"}},
   {"mark": {"type": "text", "fontSize": 11, "align": "left", "baseline": "middle", "dx": 189, "dy": 39, "color": "#222", "text": "< 0.001"}},
   {"mark": {"type": "point", "shape": "M-1,0L1,0", "size": 340, "filled": false, "color": "black", "strokeWidth": 1.5, "opacity": 1}, "encoding": {"x": {"datum": 8.91, "type": "quantitative"}, "y": {"datum": 5.39, "type": "quantitative"}}},
   {"mark": {"type": "point", "shape": "circle", "size": 22, "filled": true, "fill": "white", "stroke": "black", "strokeWidth": 1, "opacity": 1}, "encoding": {"x": {"datum": 8.84, "type": "quantitative"}, "y": {"datum": 5.39, "type": "quantitative"}}}
  ]}
 ]},
 {"width": 236, "height": 157.5, "layer": [
  {"data": {"name": "men"}, "mark": {"type": "point", "shape": "square", "filled": false, "size": 28, "color": "black", "strokeWidth": 1, "opacity": 1},
   "encoding": {"x": {"field": "x", "type": "quantitative", "scale": {"domain": [2, 12]}, "axis": {"values": [2,4,6,8,10,12], "labels": false, "tickSize": -5, "title": null}},
    "y": {"field": "e", "type": "quantitative", "scale": {"domain": [0, 6]}, "axis": {"values": [2,4,6], "labelOverlap": false, "tickSize": 3, "labelPadding": 1, "titlePadding": 13, "title": "Femoral Neck CtTh (mm)"}}}},
  {"data": {"name": "fits"}, "transform": [{"filter": "datum.p == 'E'"}], "mark": {"type": "rule", "color": "black", "strokeWidth": 2},
   "encoding": {"x": {"field": "x0", "type": "quantitative"}, "y": {"field": "y0", "type": "quantitative"}, "x2": {"field": "x1"}, "y2": {"field": "y1"}}},
  {"data": {"name": "notes"}, "transform": [{"filter": "datum.p == 'E'"}], "encoding": {"x": {"datum": 2, "type": "quantitative"}, "y": {"datum": 6, "type": "quantitative"}}, "layer": [
   {"mark": {"type": "text", "fontSize": 21, "fontWeight": "bold", "align": "center", "baseline": "middle", "dx": -43, "dy": 2, "color": "black"}, "encoding": {"text": {"field": "p"}}},
   {"mark": {"type": "text", "fontSize": 11, "fontWeight": "bold", "align": "left", "baseline": "middle", "dx": 182, "dy": 16, "color": "#222", "text": "Men"}},
   {"mark": {"type": "text", "fontSize": 11, "fontStyle": "italic", "align": "left", "baseline": "middle", "dx": 180, "dy": 28, "color": "#222", "text": "r"}},
   {"mark": {"type": "text", "fontSize": 11, "align": "left", "baseline": "middle", "dx": 186, "dy": 28, "color": "#222"}, "encoding": {"text": {"field": "r"}}},
   {"mark": {"type": "text", "fontSize": 11, "fontStyle": "italic", "align": "left", "baseline": "middle", "dx": 180, "dy": 39, "color": "#222", "text": "p"}},
   {"mark": {"type": "text", "fontSize": 11, "align": "left", "baseline": "middle", "dx": 189, "dy": 39, "color": "#222", "text": "< 0.001"}},
   {"mark": {"type": "point", "shape": "square", "size": 22, "filled": false, "color": "black", "strokeWidth": 1, "opacity": 1}, "encoding": {"x": {"datum": 8.93, "type": "quantitative"}, "y": {"datum": 5.33, "type": "quantitative"}}}
  ]}
 ]},
 {"width": 236, "height": 157.5, "layer": [
  {"data": {"name": "women"}, "mark": {"type": "point", "shape": "circle", "filled": false, "size": 22, "color": "black", "strokeWidth": 1, "opacity": 1},
   "encoding": {"x": {"field": "x", "type": "quantitative", "scale": {"domain": [2, 12]}, "axis": {"values": [2,4,6,8,10,12], "labels": false, "tickSize": -5, "title": null}},
    "y": {"field": "b", "type": "quantitative", "scale": {"domain": [0, 4]}, "axis": {"values": [1,2,3,4], "labelOverlap": false, "tickSize": 5, "labelPadding": 1, "titlePadding": 3, "title": "Lumbar CtTh (mm)"}}}},
  {"data": {"name": "fits"}, "transform": [{"filter": "datum.p == 'B'"}], "mark": {"type": "rule", "color": "black", "strokeWidth": 2},
   "encoding": {"x": {"field": "x0", "type": "quantitative"}, "y": {"field": "y0", "type": "quantitative"}, "x2": {"field": "x1"}, "y2": {"field": "y1"}}},
  {"data": {"name": "notes"}, "transform": [{"filter": "datum.p == 'B'"}], "encoding": {"x": {"datum": 2, "type": "quantitative"}, "y": {"datum": 4, "type": "quantitative"}}, "layer": [
   {"mark": {"type": "text", "fontSize": 21, "fontWeight": "bold", "align": "center", "baseline": "middle", "dx": -43, "dy": 2, "color": "black"}, "encoding": {"text": {"field": "p"}}},
   {"mark": {"type": "text", "fontSize": 12, "fontWeight": "bold", "align": "right", "baseline": "middle", "dx": -6, "color": "black", "text": "3"}, "encoding": {"y": {"datum": 3, "type": "quantitative"}}},
   {"mark": {"type": "text", "fontSize": 11, "fontStyle": "italic", "align": "left", "baseline": "middle", "dx": 180, "dy": 14.5, "color": "#222", "text": "r"}},
   {"mark": {"type": "text", "fontSize": 11, "align": "left", "baseline": "middle", "dx": 186, "dy": 14.5, "color": "#222"}, "encoding": {"text": {"field": "r"}}},
   {"mark": {"type": "text", "fontSize": 11, "fontStyle": "italic", "align": "left", "baseline": "middle", "dx": 180, "dy": 27, "color": "#222", "text": "p"}},
   {"mark": {"type": "text", "fontSize": 11, "align": "left", "baseline": "middle", "dx": 189, "dy": 27, "color": "#222", "text": "< 0.001"}}
  ]}
 ]},
 {"width": 236, "height": 157.5, "layer": [
  {"data": {"name": "men"}, "mark": {"type": "point", "shape": "square", "filled": false, "size": 28, "color": "black", "strokeWidth": 1, "opacity": 1},
   "encoding": {"x": {"field": "x", "type": "quantitative", "scale": {"domain": [2, 12]}, "axis": {"values": [2,4,6,8,10,12], "labels": false, "tickSize": -5, "title": null}},
    "y": {"field": "f", "type": "quantitative", "scale": {"domain": [0, 4]}, "axis": {"values": [1,2,3,4], "labelOverlap": false, "tickSize": 3, "labelPadding": 1, "titlePadding": 13, "title": "Lumbar CtTh (mm)"}}}},
  {"data": {"name": "fits"}, "transform": [{"filter": "datum.p == 'F'"}], "mark": {"type": "rule", "color": "black", "strokeWidth": 2},
   "encoding": {"x": {"field": "x0", "type": "quantitative"}, "y": {"field": "y0", "type": "quantitative"}, "x2": {"field": "x1"}, "y2": {"field": "y1"}}},
  {"data": {"name": "notes"}, "transform": [{"filter": "datum.p == 'F'"}], "encoding": {"x": {"datum": 2, "type": "quantitative"}, "y": {"datum": 4, "type": "quantitative"}}, "layer": [
   {"mark": {"type": "text", "fontSize": 21, "fontWeight": "bold", "align": "center", "baseline": "middle", "dx": -43, "dy": 2, "color": "black"}, "encoding": {"text": {"field": "p"}}},
   {"mark": {"type": "text", "fontSize": 12, "fontWeight": "bold", "align": "right", "baseline": "middle", "dx": -4, "color": "black", "text": "3"}, "encoding": {"y": {"datum": 3, "type": "quantitative"}}},
   {"mark": {"type": "text", "fontSize": 11, "fontStyle": "italic", "align": "left", "baseline": "middle", "dx": 180, "dy": 14.5, "color": "#222", "text": "r"}},
   {"mark": {"type": "text", "fontSize": 11, "align": "left", "baseline": "middle", "dx": 186, "dy": 14.5, "color": "#222"}, "encoding": {"text": {"field": "r"}}},
   {"mark": {"type": "text", "fontSize": 11, "fontStyle": "italic", "align": "left", "baseline": "middle", "dx": 180, "dy": 27, "color": "#222", "text": "p"}},
   {"mark": {"type": "text", "fontSize": 11, "align": "left", "baseline": "middle", "dx": 189, "dy": 27, "color": "#222", "text": "< 0.001"}}
  ]}
 ]},
 {"width": 236, "height": 157.5, "layer": [
  {"data": {"name": "women"}, "mark": {"type": "point", "shape": "circle", "filled": false, "size": 22, "color": "black", "strokeWidth": 1, "opacity": 1},
   "encoding": {"x": {"field": "x", "type": "quantitative", "scale": {"domain": [2, 12]}, "axis": {"values": [2,4,6,8,10,12], "labels": false, "tickSize": -5, "title": null}},
    "y": {"field": "c", "type": "quantitative", "scale": {"domain": [0, 6]}, "axis": {"values": [2,4,6], "labelOverlap": false, "tickSize": 5, "labelPadding": 1, "titlePadding": 3, "title": "Tibia CtTh (mm)"}}}},
  {"data": {"name": "fits"}, "transform": [{"filter": "datum.p == 'C'"}], "mark": {"type": "rule", "color": "black", "strokeWidth": 2},
   "encoding": {"x": {"field": "x0", "type": "quantitative"}, "y": {"field": "y0", "type": "quantitative"}, "x2": {"field": "x1"}, "y2": {"field": "y1"}}},
  {"data": {"name": "notes"}, "transform": [{"filter": "datum.p == 'C'"}], "encoding": {"x": {"datum": 2, "type": "quantitative"}, "y": {"datum": 6, "type": "quantitative"}}, "layer": [
   {"mark": {"type": "text", "fontSize": 21, "fontWeight": "bold", "align": "center", "baseline": "middle", "dx": -43, "dy": 2, "color": "black"}, "encoding": {"text": {"field": "p"}}},
   {"mark": {"type": "text", "fontSize": 11, "fontStyle": "italic", "align": "left", "baseline": "middle", "dx": 180, "dy": 14.5, "color": "#222", "text": "r"}},
   {"mark": {"type": "text", "fontSize": 11, "align": "left", "baseline": "middle", "dx": 186, "dy": 14.5, "color": "#222"}, "encoding": {"text": {"field": "r"}}},
   {"mark": {"type": "text", "fontSize": 11, "fontStyle": "italic", "align": "left", "baseline": "middle", "dx": 180, "dy": 27, "color": "#222", "text": "p"}},
   {"mark": {"type": "text", "fontSize": 11, "align": "left", "baseline": "middle", "dx": 189, "dy": 27, "color": "#222", "text": "< 0.001"}}
  ]}
 ]},
 {"width": 236, "height": 157.5, "layer": [
  {"data": {"name": "men"}, "mark": {"type": "point", "shape": "square", "filled": false, "size": 28, "color": "black", "strokeWidth": 1, "opacity": 1},
   "encoding": {"x": {"field": "x", "type": "quantitative", "scale": {"domain": [2, 12]}, "axis": {"values": [2,4,6,8,10,12], "labels": false, "tickSize": -5, "title": null}},
    "y": {"field": "g", "type": "quantitative", "scale": {"domain": [0, 6]}, "axis": {"values": [2,4,6], "labelOverlap": false, "tickSize": 3, "labelPadding": 1, "titlePadding": 13, "title": "Tibia CtTh (mm)"}}}},
  {"data": {"name": "fits"}, "transform": [{"filter": "datum.p == 'G'"}], "mark": {"type": "rule", "color": "black", "strokeWidth": 2},
   "encoding": {"x": {"field": "x0", "type": "quantitative"}, "y": {"field": "y0", "type": "quantitative"}, "x2": {"field": "x1"}, "y2": {"field": "y1"}}},
  {"data": {"name": "notes"}, "transform": [{"filter": "datum.p == 'G'"}], "encoding": {"x": {"datum": 2, "type": "quantitative"}, "y": {"datum": 6, "type": "quantitative"}}, "layer": [
   {"mark": {"type": "text", "fontSize": 21, "fontWeight": "bold", "align": "center", "baseline": "middle", "dx": -43, "dy": 2, "color": "black"}, "encoding": {"text": {"field": "p"}}},
   {"mark": {"type": "text", "fontSize": 11, "fontStyle": "italic", "align": "left", "baseline": "middle", "dx": 180, "dy": 14.5, "color": "#222", "text": "r"}},
   {"mark": {"type": "text", "fontSize": 11, "align": "left", "baseline": "middle", "dx": 186, "dy": 14.5, "color": "#222"}, "encoding": {"text": {"field": "r"}}},
   {"mark": {"type": "text", "fontSize": 11, "fontStyle": "italic", "align": "left", "baseline": "middle", "dx": 180, "dy": 27, "color": "#222", "text": "p"}},
   {"mark": {"type": "text", "fontSize": 11, "align": "left", "baseline": "middle", "dx": 189, "dy": 27, "color": "#222", "text": "< 0.001"}}
  ]}
 ]},
 {"width": 236, "height": 157.5, "layer": [
  {"data": {"name": "women"}, "mark": {"type": "point", "shape": "circle", "filled": false, "size": 22, "color": "black", "strokeWidth": 1, "opacity": 1},
   "encoding": {"x": {"field": "x", "type": "quantitative", "scale": {"domain": [2, 12]}, "axis": {"values": [2,4,6,8,10,12], "tickSize": 4, "labelPadding": 0, "titlePadding": 9, "title": "Relative ASM (kg/m²)"}},
    "y": {"field": "d", "type": "quantitative", "scale": {"domain": [0, 6]}, "axis": {"values": [0,2,4,6], "labelOverlap": false, "tickSize": 5, "labelPadding": 1, "titlePadding": 3, "title": "Radius CtTh (mm)"}}}},
  {"data": {"name": "fits"}, "transform": [{"filter": "datum.p == 'D'"}], "mark": {"type": "rule", "color": "black", "strokeWidth": 2},
   "encoding": {"x": {"field": "x0", "type": "quantitative"}, "y": {"field": "y0", "type": "quantitative"}, "x2": {"field": "x1"}, "y2": {"field": "y1"}}},
  {"data": {"name": "notes"}, "transform": [{"filter": "datum.p == 'D'"}], "encoding": {"x": {"datum": 2, "type": "quantitative"}, "y": {"datum": 6, "type": "quantitative"}}, "layer": [
   {"mark": {"type": "text", "fontSize": 21, "fontWeight": "bold", "align": "center", "baseline": "middle", "dx": -43, "dy": 2, "color": "black"}, "encoding": {"text": {"field": "p"}}},
   {"mark": {"type": "text", "fontSize": 11, "fontStyle": "italic", "align": "left", "baseline": "middle", "dx": 180, "dy": 14.5, "color": "#222", "text": "r"}},
   {"mark": {"type": "text", "fontSize": 11, "align": "left", "baseline": "middle", "dx": 186, "dy": 14.5, "color": "#222"}, "encoding": {"text": {"field": "r"}}},
   {"mark": {"type": "text", "fontSize": 11, "fontStyle": "italic", "align": "left", "baseline": "middle", "dx": 180, "dy": 27, "color": "#222", "text": "p"}},
   {"mark": {"type": "text", "fontSize": 11, "align": "left", "baseline": "middle", "dx": 189, "dy": 27, "color": "#222", "text": "< 0.001"}}
  ]}
 ]},
 {"width": 236, "height": 157.5, "layer": [
  {"data": {"name": "men"}, "mark": {"type": "point", "shape": "square", "filled": false, "size": 28, "color": "black", "strokeWidth": 1, "opacity": 1},
   "encoding": {"x": {"field": "x", "type": "quantitative", "scale": {"domain": [2, 12]}, "axis": {"values": [2,4,6,8,10,12], "tickSize": 4, "labelPadding": 0, "titlePadding": 9, "title": "Relative ASM (kg/m²)"}},
    "y": {"field": "h", "type": "quantitative", "scale": {"domain": [0, 6]}, "axis": {"values": [0,2,4,6], "labelOverlap": false, "tickSize": 3, "labelPadding": 1, "titlePadding": 13, "title": "Radius CtTh (mm)"}}}},
  {"data": {"name": "fits"}, "transform": [{"filter": "datum.p == 'H'"}], "mark": {"type": "rule", "color": "black", "strokeWidth": 2},
   "encoding": {"x": {"field": "x0", "type": "quantitative"}, "y": {"field": "y0", "type": "quantitative"}, "x2": {"field": "x1"}, "y2": {"field": "y1"}}},
  {"data": {"name": "notes"}, "transform": [{"filter": "datum.p == 'H'"}], "encoding": {"x": {"datum": 2, "type": "quantitative"}, "y": {"datum": 6, "type": "quantitative"}}, "layer": [
   {"mark": {"type": "text", "fontSize": 21, "fontWeight": "bold", "align": "center", "baseline": "middle", "dx": -43, "dy": 2, "color": "black"}, "encoding": {"text": {"field": "p"}}},
   {"mark": {"type": "text", "fontSize": 11, "fontStyle": "italic", "align": "left", "baseline": "middle", "dx": 180, "dy": 14.5, "color": "#222", "text": "r"}},
   {"mark": {"type": "text", "fontSize": 11, "align": "left", "baseline": "middle", "dx": 186, "dy": 14.5, "color": "#222"}, "encoding": {"text": {"field": "r"}}},
   {"mark": {"type": "text", "fontSize": 11, "fontStyle": "italic", "align": "left", "baseline": "middle", "dx": 180, "dy": 27, "color": "#222", "text": "p"}},
   {"mark": {"type": "text", "fontSize": 11, "align": "left", "baseline": "middle", "dx": 189, "dy": 27, "color": "#222", "text": "< 0.001"}}
  ]}
 ]}
]
}
